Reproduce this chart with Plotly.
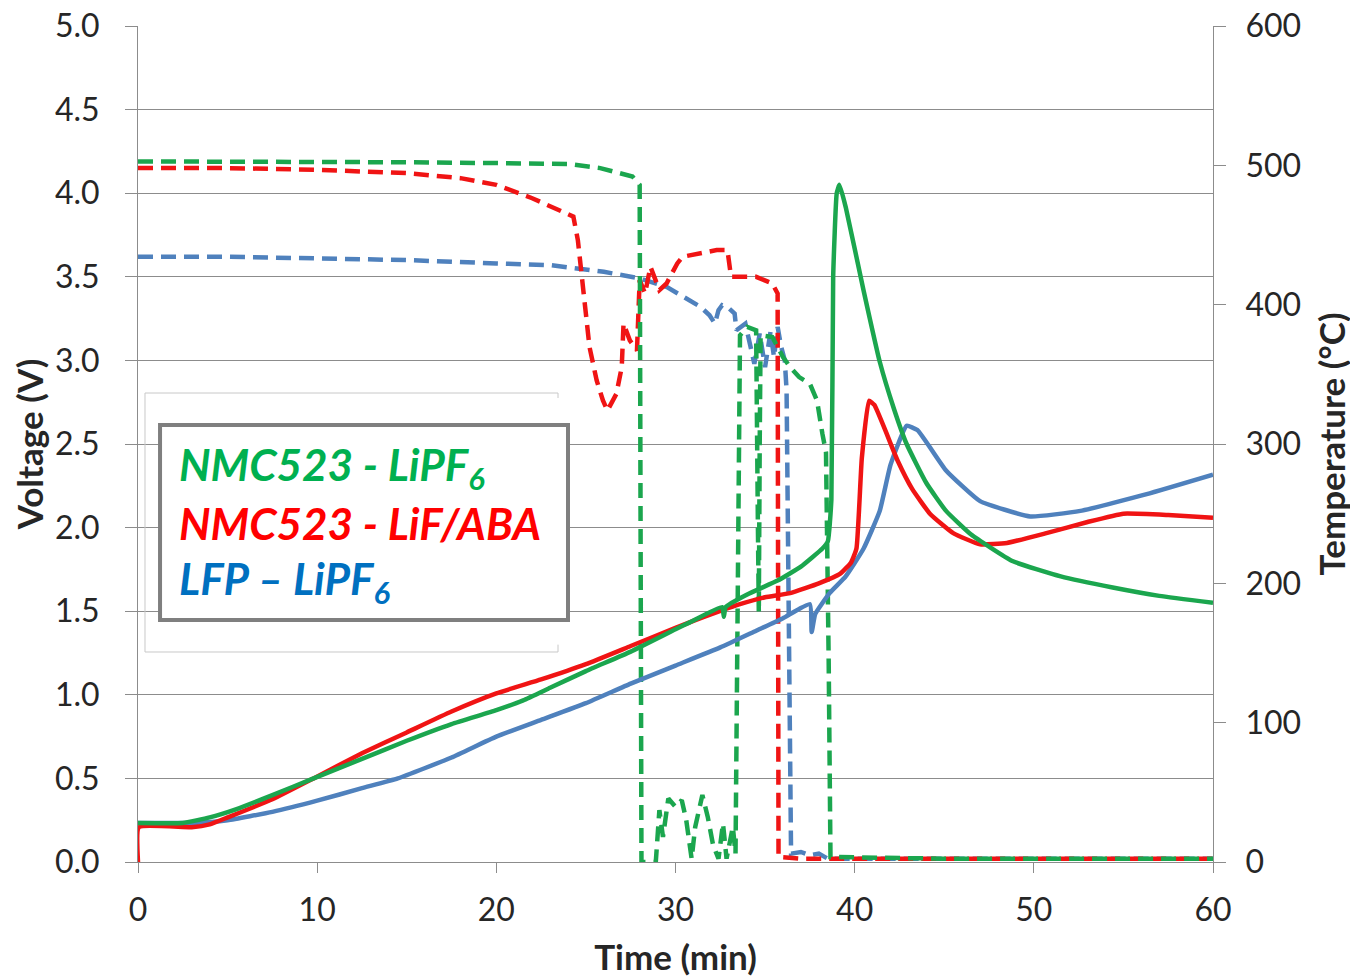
import plotly.graph_objects as go

# voltage (dashed) - time in min, volts
t_v_nmc_lipf6 = [0, 5, 10, 15, 20, 24, 25.8, 27.0, 27.6, 28.0, 28.05, 28.1, 28.9, 29.1, 29.3, 29.6, 30.0, 30.35,
                 30.6, 30.9, 31.1, 31.5, 31.8, 32.1, 32.4, 32.65, 32.85, 33.2, 33.35, 33.5, 33.6, 34.0, 34.5,
                 34.6, 34.65, 34.7, 34.75, 35.4, 36.0, 36.4, 36.9, 37.5, 37.9, 38.2, 38.4, 38.55, 38.65, 45, 50, 55, 60]
v_nmc_lipf6 = [4.19, 4.19, 4.19, 4.185, 4.18, 4.175, 4.15, 4.12, 4.10, 4.05, 2.0, 0.0, 0.0, 0.31, 0.15, 0.38, 0.33, 0.37,
               0.25, 0.02, 0.21, 0.40, 0.27, 0.10, 0.02, 0.23, 0.02, 0.21, 0.05, 1.8, 3.15, 3.2, 3.18,
               2.0, 1.49, 2.5, 3.15, 3.14, 3.02, 2.96, 2.9, 2.86, 2.76, 2.56, 2.45, 1.2, 0.03, 0.02, 0.02, 0.02, 0.02]

t_v_nmc_lif = [0, 5, 10, 15, 18, 20, 22, 23.7, 24.3, 24.55, 24.8, 25.05, 25.2, 25.6, 25.95, 26.2, 26.7, 27.0, 27.1,
               27.45, 27.85, 28.0, 28.3, 28.6, 29.1, 29.5, 30.1, 30.4, 31.4, 32.3, 32.9, 33.1, 33.6, 34.5, 35.4,
               35.7, 35.75, 37, 45, 50, 55, 60]
v_nmc_lif = [4.15, 4.15, 4.14, 4.12, 4.09, 4.05, 3.97, 3.89, 3.86, 3.72, 3.48, 3.28, 3.08, 2.88, 2.76, 2.70, 2.80, 2.96, 3.22,
             3.12, 3.06, 3.48, 3.40, 3.56, 3.42, 3.46, 3.58, 3.62, 3.64, 3.66, 3.66, 3.5, 3.5, 3.5, 3.46,
             3.40, 0.03, 0.02, 0.02, 0.02, 0.02, 0.02]

t_v_lfp = [0, 5, 10, 15, 20, 23, 26, 28, 29.5, 30.5, 31.4, 31.9, 32.2, 32.4, 32.6, 33.0, 33.3, 33.4, 33.9, 34.4, 34.7,
           35.0, 35.3, 35.5, 35.7, 35.9, 36.1, 36.2, 36.35, 36.45, 37.0, 37.5, 38.0, 38.5, 45, 50, 55, 60]
v_lfp = [3.62, 3.62, 3.61, 3.60, 3.58, 3.57, 3.53, 3.49, 3.44, 3.38, 3.32, 3.27, 3.22, 3.30, 3.33, 3.31, 3.28, 3.18, 3.22,
         2.98, 3.16, 2.96, 3.17, 3.02, 3.20, 3.08, 3.00, 2.82, 1.0, 0.05, 0.06, 0.04, 0.05, 0.02, 0.02, 0.02, 0.02, 0.02]

# temperature (solid) - time in min, deg C
t_T_nmc_lipf6 = [0, 2.5, 4, 5.5, 7.5, 9.8, 12.5, 15, 17.5, 20, 21.5, 23, 25, 27.5, 30, 30.8, 32.6, 32.7, 32.8, 34,
                 35.7, 37, 38.2, 38.5, 38.7, 38.8, 39.0, 39.15, 39.5, 40.5, 41.4, 42.2, 42.9, 44, 45.1, 46.5, 48.8,
                 51.5, 54.4, 57, 60]
T_nmc_lipf6 = [28, 28, 32, 38, 48, 60, 74, 87, 99, 109, 116, 125, 137, 151, 167, 172, 183, 176, 183, 192,
               202, 212, 225, 230, 260, 420, 480, 486, 470, 410, 359, 325, 300, 272, 252, 235, 216,
               205, 197, 191, 186]

t_T_nmc_lif = [0, 0.05, 3.0, 4.0, 5, 7.5, 9.8, 12.5, 15, 17.5, 20, 22.5, 25, 27.5, 30, 31, 33.6, 35, 36.4, 38, 39.2,
               39.8, 40.1, 40.4, 40.8, 41.1, 42.4, 43.2, 44.2, 45.5, 47, 48.5, 50.7, 53, 55, 57.5, 60]
T_nmc_lif = [0, 25, 25, 27, 32, 45, 60, 78, 93, 108, 121, 131, 142, 155, 168, 173, 185, 190, 193, 200, 207,
             215, 225, 290, 331, 328, 288, 268, 250, 236, 228, 229, 236, 244, 250, 249, 247]

t_T_lfp = [0, 3, 5, 7.5, 10, 12.5, 14.5, 17.5, 20, 22.5, 25, 27.5, 30, 32.5, 34.5, 36, 37.5, 37.6, 37.8, 38.6,
           39.5, 40.5, 41.4, 42, 42.9, 43.5, 45.1, 47, 49.8, 52.6, 56.3, 60]
T_lfp = [28, 28, 30, 36, 44, 53, 60, 75, 90, 102, 114, 128, 141, 154, 166, 175, 185, 165, 178, 193,
         205, 225, 252, 285, 313, 310, 281, 259, 248, 252, 264, 278]

green = "#1BA64E"
red = "#F01414"
blue = "#4F81BD"

fig = go.Figure()

dash = "15px,8px"
lw = 4.5
fig.add_trace(go.Scatter(x=t_v_lfp, y=v_lfp, mode="lines", line=dict(color=blue, width=lw, dash=dash)))
fig.add_trace(go.Scatter(x=t_v_nmc_lif, y=v_nmc_lif, mode="lines", line=dict(color=red, width=lw, dash=dash)))
fig.add_trace(go.Scatter(x=t_v_nmc_lipf6, y=v_nmc_lipf6, mode="lines", line=dict(color=green, width=lw, dash=dash)))

fig.add_trace(go.Scatter(x=t_T_lfp, y=T_lfp, mode="lines", yaxis="y2", line=dict(color=blue, width=lw, shape="spline", smoothing=0.4)))
fig.add_trace(go.Scatter(x=t_T_nmc_lif, y=T_nmc_lif, mode="lines", yaxis="y2", line=dict(color=red, width=lw, shape="spline", smoothing=0.4)))
fig.add_trace(go.Scatter(x=t_T_nmc_lipf6, y=T_nmc_lipf6, mode="lines", yaxis="y2", line=dict(color=green, width=lw, shape="spline", smoothing=0.4)))

axis_col = "#8C8C8C"
tick_font = dict(family="Lato, sans-serif", size=32, color="#262626")
title_font = dict(family="Lato, sans-serif", size=35, color="#262626", weight="bold")

# page body adds an 8px offset, margins compensate for it
fig.update_layout(
    width=1358, height=980,
    margin=dict(l=130, r=153, t=18, b=126),
    paper_bgcolor="white", plot_bgcolor="white",
    showlegend=False,
    xaxis=dict(range=[0, 60], dtick=10, showgrid=False, showline=True, linecolor=axis_col, automargin=False,
               ticks="outside", ticklen=10, tickcolor=axis_col, tickfont=tick_font, ticklabelstandoff=10,
               ticklabeloverflow="allow",
               zeroline=False, title=dict(text="Time (min)", font=title_font, standoff=18)),
    yaxis=dict(range=[0, 5], dtick=0.5, tickformat=".1f", showgrid=True, gridcolor=axis_col, gridwidth=1,
               showline=True, linecolor=axis_col, ticks="outside", ticklen=12, tickcolor=axis_col, automargin=False,
               tickfont=tick_font, ticklabelstandoff=19, ticklabeloverflow="allow", zeroline=False,
               title=dict(text="Voltage (V)", font=title_font, standoff=4)),
    yaxis2=dict(range=[0, 600], dtick=100, overlaying="y", side="right", showgrid=False, automargin=False,
                showline=True, linecolor=axis_col, ticks="outside", ticklen=12, tickcolor=axis_col,
                tickfont=tick_font, ticklabelstandoff=13, ticklabeloverflow="allow", zeroline=False,
                title=dict(text="Temperature (°C)", font=title_font, standoff=20)),
)

# faint frame behind the label box
fig.add_shape(type="path", xref="paper", yref="paper", layer="above",
              path="M 0.3907,0.555 L 0.3907,0.561 L 0.0065,0.561 L 0.0065,0.2512 L 0.3907,0.2512 L 0.3907,0.26",
              line=dict(color="#C8C8C8", width=1))
# label box
fig.add_shape(type="rect", xref="paper", yref="paper", layer="above",
              x0=0.0205, x1=0.40, y0=0.2895, y1=0.5227,
              line=dict(color="#7F7F7F", width=4), fillcolor="white")

label_font = dict(family="Lato, sans-serif", size=44, weight="bold", style="italic")
labels = ["NMC523 - LiPF<sub>6</sub>", "NMC523 - LiF/ABA", "LFP – LiPF<sub>6</sub>"]
label_cols = ["#00B050", "#FF0000", "#0070C0"]
label_y = [0.472, 0.405, 0.336]
for txt, col, yy in zip(labels, label_cols, label_y):
    fig.add_annotation(text=txt, xref="paper", yref="paper", x=0.036, y=yy, xanchor="left", yanchor="middle",
                       showarrow=False, font=dict(label_font, color=col))

fig.write_html("out.html")
